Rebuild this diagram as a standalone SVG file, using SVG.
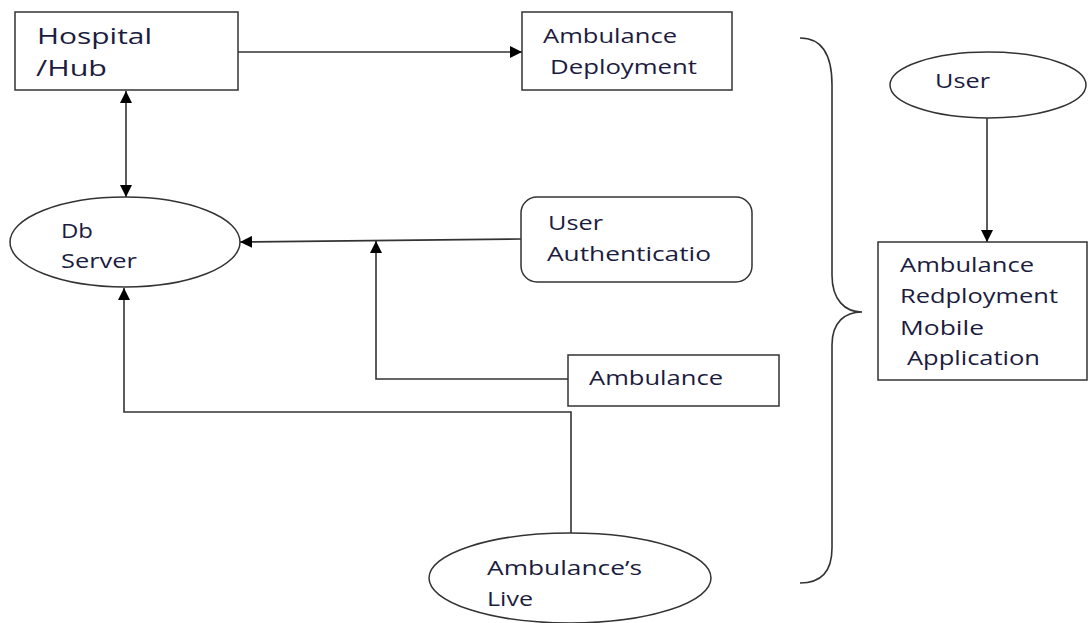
<svg xmlns="http://www.w3.org/2000/svg" width="1088" height="623" viewBox="0 0 1088 623">
<style>
  .box{fill:#fff;stroke:#333;stroke-width:1.5}
  .t{font-family:"Open Sans","Liberation Sans",sans-serif;font-size:20px;fill:#1c1c40}
  .big{font-size:22px}
  .ln{fill:none;stroke:#333;stroke-width:1.6}
</style>
<defs>
  <marker id="ah" markerUnits="userSpaceOnUse" markerWidth="12" markerHeight="12" viewBox="0 0 12 12" refX="12" refY="6" orient="auto-start-reverse">
    <path d="M0,0 L12,6 L0,12 z" fill="#000"/>
  </marker>
</defs>
<rect width="1088" height="623" fill="#fff"/>
<g id="connectors">
  <line class="ln" x1="238" y1="52" x2="522" y2="52" marker-end="url(#ah)"/>
  <line class="ln" x1="126" y1="91" x2="126" y2="197" marker-start="url(#ah)" marker-end="url(#ah)"/>
  <line class="ln" x1="521" y1="239" x2="240" y2="242" marker-end="url(#ah)"/>
  <path class="ln" d="M568,379 L376,379 L376,241" marker-end="url(#ah)"/>
  <path class="ln" d="M571,533 L571,412 L124,412 L124,288" marker-end="url(#ah)"/>
  <line class="ln" x1="987" y1="117" x2="987" y2="242" marker-end="url(#ah)"/>
  <path class="ln" d="M800,38 C822,38 832,55 832,85 L832,275 C832,300 845,312 862,312 C845,312 832,322 832,345 L832,548 C832,570 822,583 800,583"/>
</g>
<g id="hospital">
  <rect class="box" x="15" y="12" width="223" height="78"/>
  <text class="t big" x="37" y="44" textLength="115" lengthAdjust="spacingAndGlyphs">Hospital</text>
  <text class="t big" x="36" y="76" textLength="71" lengthAdjust="spacingAndGlyphs">/Hub</text>
</g>
<g id="deployment">
  <rect class="box" x="522" y="12" width="210" height="78"/>
  <text class="t" x="543" y="43" textLength="134" lengthAdjust="spacingAndGlyphs">Ambulance</text>
  <text class="t" x="550" y="74" textLength="147" lengthAdjust="spacingAndGlyphs">Deployment</text>
</g>
<g id="dbserver">
  <ellipse class="box" cx="125" cy="242" rx="115" ry="45"/>
  <text class="t" x="61" y="238" textLength="32" lengthAdjust="spacingAndGlyphs">Db</text>
  <text class="t" x="61" y="268" textLength="76" lengthAdjust="spacingAndGlyphs">Server</text>
</g>
<g id="auth">
  <rect class="box" x="521" y="197" width="231" height="85" rx="16" ry="16"/>
  <text class="t" x="548" y="230" textLength="55" lengthAdjust="spacingAndGlyphs">User</text>
  <text class="t" x="547" y="261" textLength="164" lengthAdjust="spacingAndGlyphs">Authenticatio</text>
</g>
<g id="ambulance">
  <rect class="box" x="568" y="355" width="211" height="51"/>
  <text class="t" x="589" y="385" textLength="134" lengthAdjust="spacingAndGlyphs">Ambulance</text>
</g>
<g id="live">
  <ellipse class="box" cx="570" cy="578" rx="141" ry="45"/>
  <text class="t" x="487" y="575" textLength="155" lengthAdjust="spacingAndGlyphs">Ambulance’s</text>
  <text class="t" x="487" y="606" textLength="46" lengthAdjust="spacingAndGlyphs">Live</text>
</g>
<g id="user">
  <ellipse class="box" cx="988" cy="85" rx="98" ry="33"/>
  <text class="t" x="935" y="88" textLength="55" lengthAdjust="spacingAndGlyphs">User</text>
</g>
<g id="app">
  <rect class="box" x="878" y="242" width="209" height="138"/>
  <text class="t" x="900" y="272" textLength="134" lengthAdjust="spacingAndGlyphs">Ambulance</text>
  <text class="t" x="900" y="303" textLength="158" lengthAdjust="spacingAndGlyphs">Redployment</text>
  <text class="t" x="900" y="335" textLength="84" lengthAdjust="spacingAndGlyphs">Mobile</text>
  <text class="t" x="907" y="365" textLength="133" lengthAdjust="spacingAndGlyphs">Application</text>
</g>
</svg>
